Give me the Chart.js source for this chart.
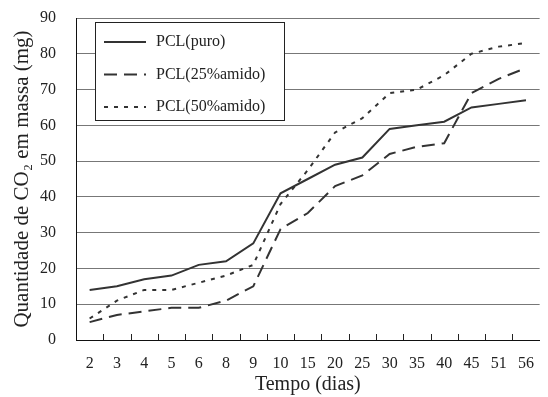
<!DOCTYPE html>
<html>
<head>
<meta charset="utf-8">
<script src="https://cdn.jsdelivr.net/npm/chart.js@4/dist/chart.umd.min.js"></script>
<style>
  body { margin: 0; background: #fff; }
  #wrap { width: 548px; height: 397px; }
</style>
</head>
<body>
<div id="wrap"><canvas id="myChart"></canvas></div>
<script>
let dias = ['2', '3', '4', '5', '6', '8', '9', '10', '15', '20', '25', '30', '35', '40', '45', '51', '56'];
let puro = [14, 15, 17, 18, 21, 22, 27, 41, 45, 49, 51, 59, 60, 61, 65, 66, 67];
let amido25 = [5, 7, 8, 9, 9, 11, 15, 31, 35.5, 43, 46, 52, 54, 55, 69, 73, 76];
let amido50 = [6, 11, 14, 14, 16, 18, 21, 38, 47.5, 58, 62, 69, 70, 74, 80, 82, 83];
let yTicks = [0, 10, 20, 30, 40, 50, 60, 70, 80, 90];

let serif = '"Liberation Serif", "Times New Roman", serif';
let lineColor = '#333333';

// legend with a box, drawn inside the plot area
let boxLegend = {
    id: 'boxLegend',
    afterDatasetsDraw(chart) {
        let ctx = chart.ctx;
        let area = chart.chartArea;
        let x0 = area.left + 19, y0 = area.top + 4;
        let w = 189, h = 98;
        ctx.save();
        ctx.fillStyle = '#fff';
        ctx.fillRect(x0, y0, w, h);
        ctx.strokeStyle = '#222';
        ctx.lineWidth = 1;
        ctx.strokeRect(x0 + 0.5, y0 + 0.5, w, h);
        ctx.font = '16px ' + serif;
        ctx.textBaseline = 'middle';
        chart.data.datasets.forEach((ds, i) => {
            let y = y0 + 20 + i * 32.5;
            ctx.strokeStyle = ds.borderColor;
            ctx.lineWidth = 2;
            ctx.setLineDash(ds.borderDash || []);
            ctx.beginPath();
            ctx.moveTo(x0 + 9, y);
            ctx.lineTo(x0 + 51, y);
            ctx.stroke();
            ctx.setLineDash([]);
            ctx.fillStyle = '#222';
            ctx.fillText(ds.label, x0 + 61, y);
        });
        ctx.restore();
    }
};

// small inward tick marks on the x axis between categories
let innerTicks = {
    id: 'innerTicks',
    afterDraw(chart) {
        let ctx = chart.ctx;
        let xs = chart.scales.x;
        let bottom = chart.chartArea.bottom;
        ctx.save();
        ctx.strokeStyle = '#222';
        ctx.lineWidth = 1;
        for (let i = 0; i < dias.length - 1; i++) {
            let px = Math.round((xs.getPixelForValue(i) + xs.getPixelForValue(i + 1)) / 2) + 0.5;
            ctx.beginPath();
            ctx.moveTo(px, bottom);
            ctx.lineTo(px, bottom - 6);
            ctx.stroke();
        }
        ctx.restore();
    }
};

let myLineChart = document.getElementById('myChart').getContext('2d');

let chart1 = new Chart(myLineChart, {
    type: 'line',
    data: {
        labels: dias,
        datasets: [
            {
                label: 'PCL(puro)',
                data: puro,
                borderColor: lineColor,
                borderWidth: 2,
                pointRadius: 0,
                fill: false,
                tension: 0
            },
            {
                label: 'PCL(25%amido)',
                data: amido25,
                borderColor: lineColor,
                borderWidth: 2,
                borderDash: [13, 7],
                pointRadius: 0,
                fill: false,
                tension: 0
            },
            {
                label: 'PCL(50%amido)',
                data: amido50,
                borderColor: lineColor,
                borderWidth: 2,
                borderDash: [4, 6],
                pointRadius: 0,
                fill: false,
                tension: 0
            }
        ]
    },
    options: {
        responsive: true,
        maintainAspectRatio: false,
        animation: false,
        layout: { padding: { top: 18, right: 0, bottom: 0, left: 0 } },
        plugins: {
            legend: { display: false },
            tooltip: { enabled: false }
        },
        scales: {
            x: {
                type: 'category',
                offset: true,
                grid: { display: false, drawTicks: false },
                border: { display: true, color: '#111', width: 1 },
                afterFit(scale) { scale.height = 57; },
                ticks: {
                    color: '#222',
                    padding: 14,
                    maxRotation: 0,
                    autoSkip: false,
                    font: { family: serif, size: 16 }
                },
                title: {
                    display: true,
                    text: 'Tempo (dias)',
                    color: '#222',
                    padding: { top: 0, bottom: 0 },
                    font: { family: serif, size: 20 }
                }
            },
            y: {
                min: 0,
                max: 90,
                afterBuildTicks(scale) {
                    scale.ticks = yTicks.map(v => ({ value: v }));
                },
                afterFit(scale) {
                    scale.width = 76;
                    scale.paddingTop = 0;
                    scale.paddingBottom = 0;
                },
                grid: { color: '#777', lineWidth: 1, drawTicks: false },
                border: { display: true, color: '#111', width: 1 },
                ticks: {
                    color: '#222',
                    padding: 20,
                    font: { family: serif, size: 16 }
                },
                title: {
                    display: true,
                    text: 'Quantidade de CO\u2082 em massa (mg)',
                    color: '#222',
                    padding: { top: 10, bottom: 5 },
                    font: { family: serif, size: 21 }
                }
            }
        }
    },
    plugins: [boxLegend, innerTicks]
});
</script>
</body>
</html>
